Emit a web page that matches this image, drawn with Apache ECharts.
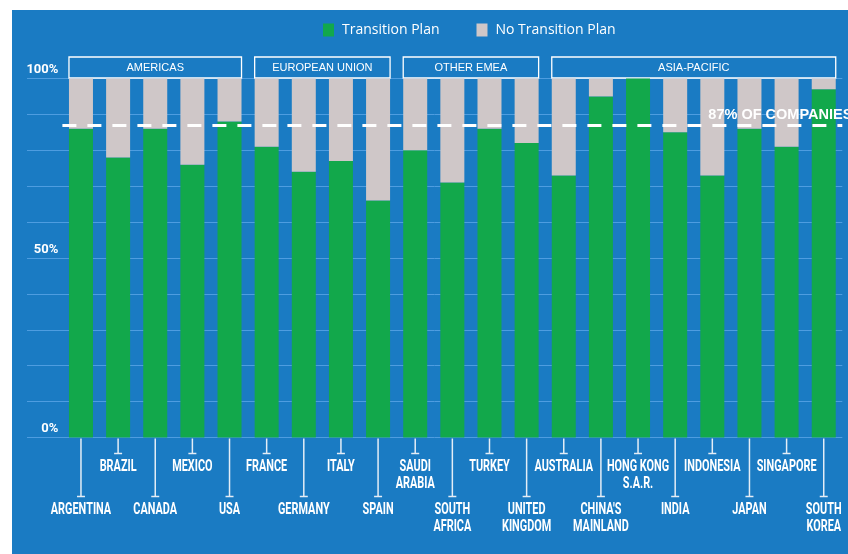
<!DOCTYPE html>
<html>
<head>
<meta charset="utf-8">
<script src="https://cdn.jsdelivr.net/npm/echarts@6/dist/echarts.min.js"></script>
<style>
  html, body { margin: 0; padding: 0; background: #ffffff; }
  #panel { position: absolute; left: 12px; top: 10px; width: 836px; height: 544px; background: #1a7bc3; }
  #chart { position: absolute; left: 0; top: 0; width: 848px; height: 554px; }
</style>
</head>
<body>
<div id="panel"></div>
<div id="chart"></div>
<script>
// Share of companies with / without a transition plan, by market
const countries = [
  'ARGENTINA', 'BRAZIL', 'CANADA', 'MEXICO', 'USA',
  'FRANCE', 'GERMANY', 'ITALY', 'SPAIN',
  'SAUDI\nARABIA', 'SOUTH\nAFRICA', 'TURKEY', 'UNITED\nKINGDOM',
  'AUSTRALIA', "CHINA'S\nMAINLAND", 'HONG KONG\nS.A.R.', 'INDIA',
  'INDONESIA', 'JAPAN', 'SINGAPORE', 'SOUTH\nKOREA'
];
const transitionPlan   = [86, 78, 86, 76, 88, 81, 74, 77, 66, 80, 71, 86, 82, 73, 95, 100, 85, 73, 86, 81, 97];
const noTransitionPlan = [14, 22, 14, 24, 12, 19, 26, 23, 34, 20, 29, 14, 18, 27, 5, 0, 15, 27, 14, 19, 3];

// Regional groupings (first and last country index of each group)
const regionNames = ['AMERICAS', 'EUROPEAN UNION', 'OTHER EMEA', 'ASIA-PACIFIC'];
const regionStart = [0, 5, 9, 13];
const regionEnd   = [4, 8, 12, 20];

// Labelled y ticks
const yTickValues = [0, 50, 100];
const yTickLabels = ['0%', '50%', '100%'];

// Overall benchmark line
const benchmarkValue = 87;
const benchmarkLabel = '87% OF COMPANIES';

const GREEN = '#12a84b';
const GREY = '#cfc7c8';
const GRID_LINE = '#4e9de0';
const WHITE = '#ffffff';
const BAR_W = 24;
const BOLD_FONT = 'Roboto, "DejaVu Sans", sans-serif';

const chart = echarts.init(document.getElementById('chart'), null, { renderer: 'canvas' });

const option = {
  backgroundColor: 'transparent',
  animation: false,
  legend: {
    data: ['Transition Plan', 'No Transition Plan'],
    left: 318,
    top: 18,
    icon: 'rect',
    itemWidth: 11,
    itemHeight: 13,
    itemGap: 37,
    textStyle: { color: WHITE, fontFamily: '"Open Sans", sans-serif', fontSize: 14, padding: [0, 0, 0, 3] }
  },
  grid: [
    { left: 62.4, right: 5.7, top: 78.5, bottom: 116.5 },
    { left: 27, right: 5.7, top: 78.5, bottom: 116.5 }
  ],
  xAxis: [
    {
      type: 'category',
      gridIndex: 0,
      data: countries,
      axisLine: { show: false },
      axisTick: { show: false },
      axisLabel: { show: false }
    },
    { type: 'value', gridIndex: 1, show: false, min: 0, max: 1 }
  ],
  yAxis: [
    {
      type: 'value',
      gridIndex: 0,
      min: 0,
      max: 100,
      interval: 10,
      splitLine: { show: false },
      axisLine: { show: false },
      axisTick: { show: false },
      axisLabel: {
        margin: 4,
        align: 'right',
        verticalAlign: 'bottom',
        padding: [0, 0, 2, 0],
        color: WHITE,
        fontFamily: BOLD_FONT,
        fontWeight: 'bold',
        fontSize: 13,
        formatter: function (v) {
          const k = yTickValues.indexOf(v);
          return k >= 0 ? yTickLabels[k] : '';
        }
      }
    },
    {
      type: 'value',
      gridIndex: 1,
      min: 0,
      max: 100,
      interval: 10,
      axisLine: { show: false },
      axisTick: { show: false },
      axisLabel: { show: false },
      splitLine: { lineStyle: { color: GRID_LINE, width: 1 } }
    }
  ],
  series: [
    {
      name: 'Transition Plan',
      type: 'bar',
      stack: 'share',
      barWidth: BAR_W,
      itemStyle: { color: GREEN },
      data: transitionPlan,
      markLine: {
        silent: true,
        symbol: 'none',
        lineStyle: { color: WHITE, width: 3, type: [14, 11] },
        label: {
          position: 'insideEndTop',
          distance: [-10, 3],
          formatter: benchmarkLabel,
          color: WHITE,
          fontFamily: '"Liberation Sans", Arial, sans-serif',
          fontWeight: 'bold',
          fontSize: 14.5
        },
        data: [{ yAxis: benchmarkValue }]
      }
    },
    {
      name: 'No Transition Plan',
      type: 'bar',
      stack: 'share',
      barWidth: BAR_W,
      itemStyle: { color: GREY },
      data: noTransitionPlan
    },
    {
      // region header boxes above each group of bars
      type: 'custom',
      silent: true,
      xAxisIndex: 0,
      yAxisIndex: 0,
      data: regionStart.map(function (s, i) { return [s, regionEnd[i], 100]; }),
      encode: { x: [0, 1], y: 2 },
      renderItem: function (params, api) {
        const a = api.coord([api.value(0), 100]);
        const b = api.coord([api.value(1), 100]);
        const x0 = a[0] - BAR_W / 2;
        const x1 = b[0] + BAR_W / 2;
        const y1 = a[1] - 0.5;
        const y0 = y1 - 21;
        return {
          type: 'group',
          children: [
            { type: 'rect', shape: { x: x0, y: y0, width: x1 - x0, height: y1 - y0 },
              style: { fill: 'none', stroke: WHITE, lineWidth: 1.3 } },
            { type: 'text',
              style: { x: (x0 + x1) / 2, y: (y0 + y1) / 2 + 0.5, text: regionNames[params.dataIndex],
                       align: 'center', verticalAlign: 'middle', fill: WHITE,
                       fontFamily: '"Liberation Sans", Arial, sans-serif', fontSize: 11 } }
          ]
        };
      }
    },
    {
      // leader ticks from each bar down to its condensed country label
      type: 'custom',
      silent: true,
      xAxisIndex: 0,
      yAxisIndex: 0,
      data: countries.map(function (c, i) { return [i, 0]; }),
      encode: { x: 0, y: 1 },
      renderItem: function (params, api) {
        const i = params.dataIndex;
        const p = api.coord([api.value(0), 0]);
        const low = i % 2 === 0;
        const len = low ? 59 : 16;
        const st = { stroke: '#e4edf6', lineWidth: 1.5 };
        return {
          type: 'group',
          children: [
            { type: 'line', shape: { x1: p[0], y1: p[1] + 1, x2: p[0], y2: p[1] + len }, style: st },
            { type: 'line', shape: { x1: p[0] - 4, y1: p[1] + len, x2: p[0] + 4, y2: p[1] + len }, style: st },
            { type: 'text', x: p[0], y: p[1] + (low ? 63.5 : 20.5), scaleX: 0.68,
              style: { x: 0, y: 0, text: countries[i], align: 'center', verticalAlign: 'top',
                       fill: WHITE, fontFamily: BOLD_FONT, fontWeight: 'bold', fontSize: 16, lineHeight: 17.5 } }
          ]
        };
      }
    }
  ]
};

chart.setOption(option);
</script>
</body>
</html>
